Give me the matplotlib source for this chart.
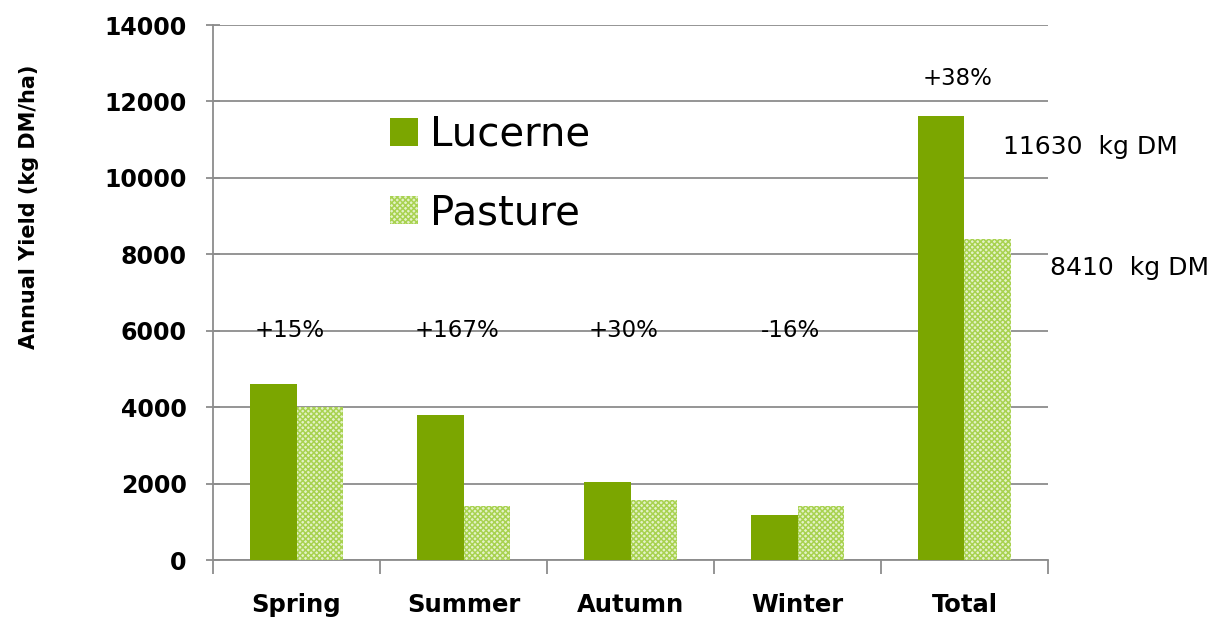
import matplotlib
matplotlib.use("Agg")
import matplotlib.pyplot as plt
import numpy as np
from matplotlib.patches import Patch

seasons = ["Spring", "Summer", "Autumn", "Winter", "Total"]
lucerne = [4600, 3800, 2050, 1180, 11630]
pasture = [4000, 1420, 1580, 1410, 8410]
changes = ["+15%", "+167%", "+30%", "-16%", "+38%"]
total_labels = ["11630  kg DM", "8410  kg DM"]

LUC_COLOR = "#7ba600"
PAS_FACE = "#e4f2c8"
PAS_HATCH = "#a8d250"
GRID = "#8c8c8c"

plt.rcParams["font.family"] = "DejaVu Sans"
plt.rcParams["hatch.linewidth"] = 1.1

fig = plt.figure(figsize=(12.28, 6.19), dpi=100)
ax = fig.add_axes([0.1735, 0.0953, 0.6799, 0.8643])

x = np.arange(len(seasons))
w = 0.28
ax.bar(x - w / 2, lucerne, w, color=LUC_COLOR, zorder=3)
ax.bar(x + w / 2, pasture, w, facecolor=PAS_FACE, edgecolor=PAS_HATCH,
       hatch="xxxxxx", linewidth=0, zorder=3)

ax.set_xlim(-0.5, 4.5)
ax.set_ylim(0, 14000)
ax.set_yticks(np.arange(0, 14001, 2000))
ax.yaxis.grid(True, color=GRID, lw=1.3, zorder=0)
ax.set_axisbelow(True)

for s in ["top", "right"]:
    ax.spines[s].set_visible(False)
for s in ["left", "bottom"]:
    ax.spines[s].set_color(GRID)
    ax.spines[s].set_linewidth(1.3)

ax.set_xticks(x)
ax.set_xticklabels(seasons, fontsize=17.5, fontweight="bold")
ax.set_xticks(np.arange(-0.5, 4.6, 1), minor=True)
ax.tick_params(axis="x", which="major", length=0, pad=24)
ax.tick_params(axis="x", which="minor", length=10, width=1.3, color=GRID, direction="out")
ax.tick_params(axis="y", length=10, width=1.3, color=GRID, direction="inout",
               labelsize=17, pad=14)
for lab in ax.get_yticklabels():
    lab.set_fontweight("bold")

ax.set_ylabel("Annual Yield (kg DM/ha)", fontsize=15, fontweight="bold")
ax.yaxis.set_label_coords(-0.208, 0.66)

# percentage changes
for i, c in enumerate(changes):
    y = 12600 if seasons[i] == "Total" else 6000
    ax.text(i - 0.04, y, c, ha="center", va="center", fontsize=16.5)

ax.text(4.23, 10810, total_labels[0], ha="left", va="center", fontsize=18, clip_on=False)
ax.text(4.51, 7640, total_labels[1], ha="left", va="center", fontsize=18, clip_on=False)

handles = [
    Patch(facecolor=LUC_COLOR, edgecolor="none", label="Lucerne"),
    Patch(facecolor=PAS_FACE, edgecolor=PAS_HATCH, hatch="xxxxxx", linewidth=0, label="Pasture"),
]
ax.legend(handles=handles, loc="upper left", bbox_to_anchor=(0.168, 0.90), frameon=False,
          fontsize=29, handlelength=0.7, handleheight=0.7, labelspacing=0.95,
          handletextpad=0.3)

fig.savefig("out.png", dpi=100)
